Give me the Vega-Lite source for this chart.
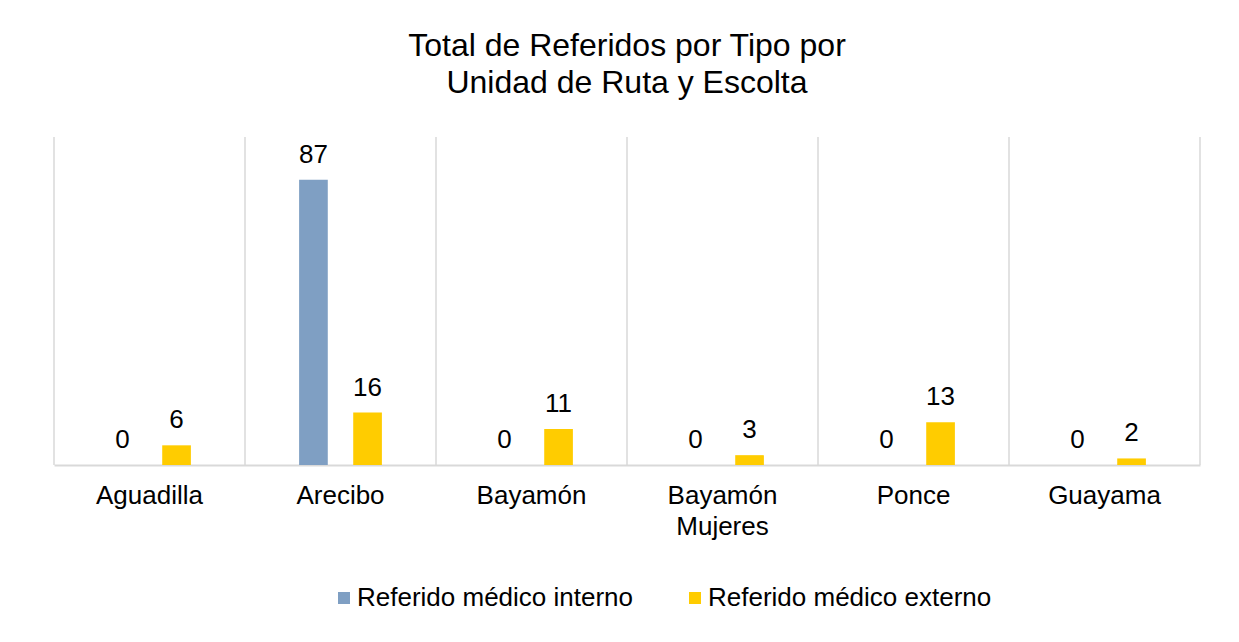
{
  "$schema": "https://vega.github.io/schema/vega-lite/v6.json",
  "autosize": "none",
  "width": 1146,
  "height": 328,
  "padding": {"left": 54, "top": 137, "right": 39, "bottom": 177},
  "background": "white",
  "title": {
    "text": ["Total de Referidos por Tipo por", "Unidad de Ruta y Escolta"],
    "font": "Liberation Sans",
    "fontSize": 32,
    "fontWeight": "normal",
    "color": "#000000",
    "lineHeight": 37,
    "anchor": "middle",
    "offset": 36
  },
  "config": {
    "view": {"stroke": null},
    "font": "Liberation Sans"
  },
  "data": {
    "values": [
      {"Unidad": "Aguadilla", "Tipo": "Referido médico interno", "Valor": 0},
      {"Unidad": "Aguadilla", "Tipo": "Referido médico externo", "Valor": 6},
      {"Unidad": "Arecibo", "Tipo": "Referido médico interno", "Valor": 87},
      {"Unidad": "Arecibo", "Tipo": "Referido médico externo", "Valor": 16},
      {"Unidad": "Bayamón", "Tipo": "Referido médico interno", "Valor": 0},
      {"Unidad": "Bayamón", "Tipo": "Referido médico externo", "Valor": 11},
      {"Unidad": "Bayamón Mujeres", "Tipo": "Referido médico interno", "Valor": 0},
      {"Unidad": "Bayamón Mujeres", "Tipo": "Referido médico externo", "Valor": 3},
      {"Unidad": "Ponce", "Tipo": "Referido médico interno", "Valor": 0},
      {"Unidad": "Ponce", "Tipo": "Referido médico externo", "Valor": 13},
      {"Unidad": "Guayama", "Tipo": "Referido médico interno", "Valor": 0},
      {"Unidad": "Guayama", "Tipo": "Referido médico externo", "Valor": 2}
    ]
  },
  "encoding": {
    "x": {
      "field": "Unidad",
      "type": "nominal",
      "sort": null,
      "scale": {"paddingInner": 0, "paddingOuter": 0},
      "axis": {
        "title": null,
        "labelAngle": 0,
        "labelFontSize": 26,
        "labelColor": "#000000",
        "labelPadding": 17,
        "labelLineHeight": 31,
        "labelLimit": 0,
        "labelExpr": "datum.value == 'Bayamón Mujeres' ? ['Bayamón', 'Mujeres'] : datum.value",
        "ticks": false,
        "grid": false,
        "domainColor": "#d9d9d9",
        "domainWidth": 2
      }
    }
  },
  "layer": [
    {
      "transform": [{"filter": "datum.Tipo == 'Referido médico interno'"}],
      "mark": {"type": "rule", "color": "#d9d9d9", "strokeWidth": 1.5},
      "encoding": {
        "x": {"field": "Unidad", "type": "nominal", "sort": null, "bandPosition": 0}
      }
    },
    {
      "transform": [{"filter": "datum.Tipo == 'Referido médico interno' && datum.Unidad == 'Guayama'"}],
      "mark": {"type": "rule", "color": "#d9d9d9", "strokeWidth": 1.5},
      "encoding": {
        "x": {"field": "Unidad", "type": "nominal", "sort": null, "bandPosition": 1}
      }
    },
    {
      "mark": {"type": "bar"},
      "encoding": {
        "xOffset": {
          "field": "Tipo",
          "type": "nominal",
          "scale": {"domain": ["Referido médico interno", "Referido médico externo"], "paddingInner": 0.47, "paddingOuter": 1.18}
        },
        "y": {
          "field": "Valor",
          "type": "quantitative",
          "scale": {"domain": [0, 100]},
          "axis": null
        },
        "color": {
          "field": "Tipo",
          "type": "nominal",
          "scale": {
            "domain": ["Referido médico interno", "Referido médico externo"],
            "range": ["#7F9FC3", "#FFCC00"]
          },
          "legend": {
            "title": null,
            "orient": "none",
            "legendX": 277,
            "legendY": 448,
            "direction": "horizontal",
            "symbolType": "square",
            "symbolSize": 144,
            "symbolStrokeWidth": 0,
            "labelFontSize": 26,
            "labelLimit": 0,
            "labelOffset": 0,
            "labelColor": "#000000",
            "columnPadding": 48
          }
        }
      }
    },
    {
      "mark": {"type": "text", "baseline": "alphabetic", "dy": -17, "fontSize": 26, "color": "#000000"},
      "encoding": {
        "xOffset": {
          "field": "Tipo",
          "type": "nominal",
          "scale": {"domain": ["Referido médico interno", "Referido médico externo"], "paddingInner": 0.47, "paddingOuter": 1.18}
        },
        "y": {"field": "Valor", "type": "quantitative"},
        "text": {"field": "Valor", "type": "quantitative"}
      }
    }
  ]
}
